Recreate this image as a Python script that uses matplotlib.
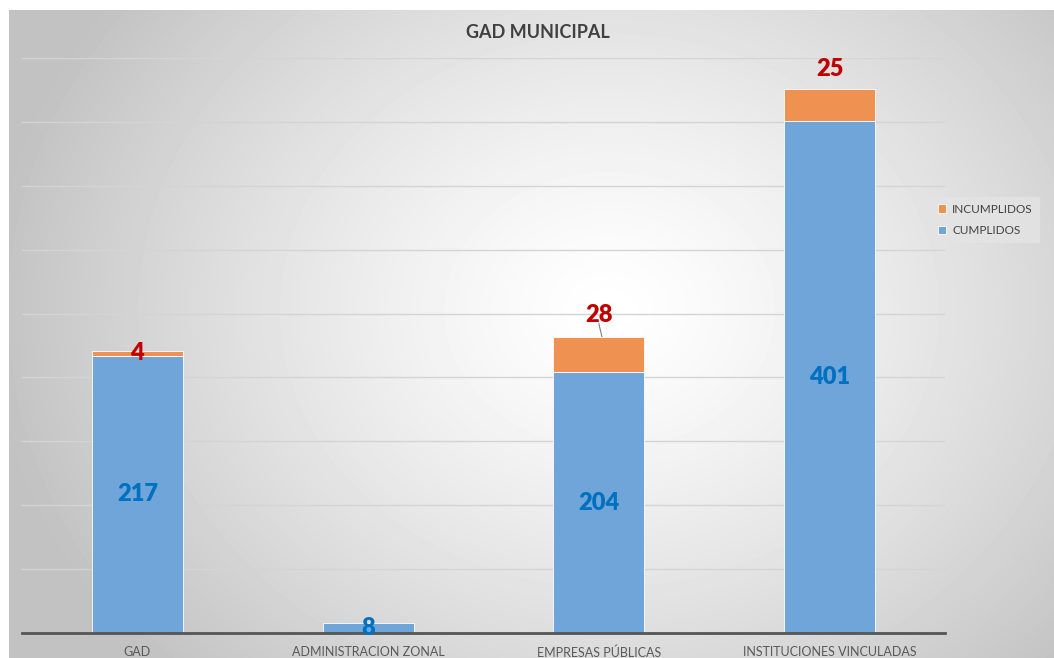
import numpy as np
import matplotlib.pyplot as plt

plt.rcParams['font.family'] = ['Lato', 'DejaVu Sans']

# datos
categorias = ['GAD', 'ADMINISTRACION ZONAL', 'EMPRESAS PÚBLICAS', 'INSTITUCIONES VINCULADAS']
cumplidos = [217, 8, 204, 401]
incumplidos = [4, 0, 28, 25]

azul = '#6FA5D9'
naranja = '#EF9150'

fig = plt.figure(figsize=(10.54, 6.58), dpi=100)

# fondo con degradado radial
bg = fig.add_axes([9 / 1054, 0, 1 - 9 / 1054, 1 - 10 / 658])
yy, xx = np.mgrid[0:648, 0:1045]
cx, cy = 600, 300
r = np.sqrt(((xx - cx) / 620) ** 2 + ((yy - cy) / 520) ** 2)
r = np.clip(r, 0, 1)
grad = 1.0 - 0.24 * r ** 1.3
bg.imshow(grad, cmap='gray', vmin=0, vmax=1, aspect='auto', interpolation='bilinear')
bg.axis('off')

# area del grafico
ax = fig.add_axes([22 / 1054, 1 - 633 / 658, 923 / 1054, 575 / 658])
ax.patch.set_alpha(0)
x = np.arange(len(categorias))
w = 0.395
b1 = ax.bar(x, cumplidos, w, color=azul, edgecolor='white', linewidth=0.6,
            label='CUMPLIDOS', zorder=3)
b2 = ax.bar(x[[0, 2, 3]], np.array(incumplidos)[[0, 2, 3]], w,
            bottom=np.array(cumplidos)[[0, 2, 3]], color=naranja,
            edgecolor='white', linewidth=0.6, label='INCUMPLIDOS', zorder=3)

ax.set_xlim(-0.5, 3.5)
ax.set_ylim(0, 450)
ax.set_yticks(np.arange(0, 451, 50))
ax.yaxis.grid(True, color='#d4d4d4', linewidth=1, zorder=0)
ax.tick_params(axis='y', left=False, labelleft=False)
ax.tick_params(axis='x', bottom=False, labelsize=9, labelcolor='#595959', pad=6)
ax.set_xticks(x)
ax.set_xticklabels(categorias)
for s in ['top', 'right', 'left']:
    ax.spines[s].set_visible(False)
ax.spines['bottom'].set_color('#555555')
ax.spines['bottom'].set_linewidth(2)
ax.spines['bottom'].set_zorder(4)

# etiquetas de datos
for i, v in enumerate(cumplidos):
    ax.text(x[i], v / 2, str(v), ha='center', va='center', color='#0070C0',
            fontsize=17, fontweight='heavy', zorder=5)
ax.text(x[0], cumplidos[0] + incumplidos[0] / 2, '4', ha='center', va='center',
        color='#C00000', fontsize=17, fontweight='heavy', zorder=5)
ax.text(x[2], 249, '28', ha='center', va='center', color='#C00000',
        fontsize=17, fontweight='heavy', zorder=5)
ax.plot([x[2], x[2] + 0.013], [242, 232], color='#7f7f7f', linewidth=0.8, zorder=5)
ax.text(x[3], 441, '25', ha='center', va='center', color='#C00000',
        fontsize=17, fontweight='heavy', zorder=5)

# titulo
fig.text(538 / 1054, 1 - 32 / 658, 'GAD MUNICIPAL', ha='center', va='center',
         fontsize=13, fontweight='bold', color='#404040')

# leyenda
leg = fig.legend(handles=[b2, b1], labels=['INCUMPLIDOS', 'CUMPLIDOS'],
                 loc='center left', bbox_to_anchor=(925 / 1054, 1 - 220 / 658),
                 frameon=True, fontsize=8.5, handlelength=0.7, handleheight=0.7,
                 handletextpad=0.5, labelspacing=0.9, borderpad=0.6)
leg.get_frame().set_facecolor('#e4e4e4')
leg.get_frame().set_edgecolor('none')
leg.get_frame().set_alpha(0.8)
for t in leg.get_texts():
    t.set_color('#404040')

fig.savefig('out.png', dpi=100)
